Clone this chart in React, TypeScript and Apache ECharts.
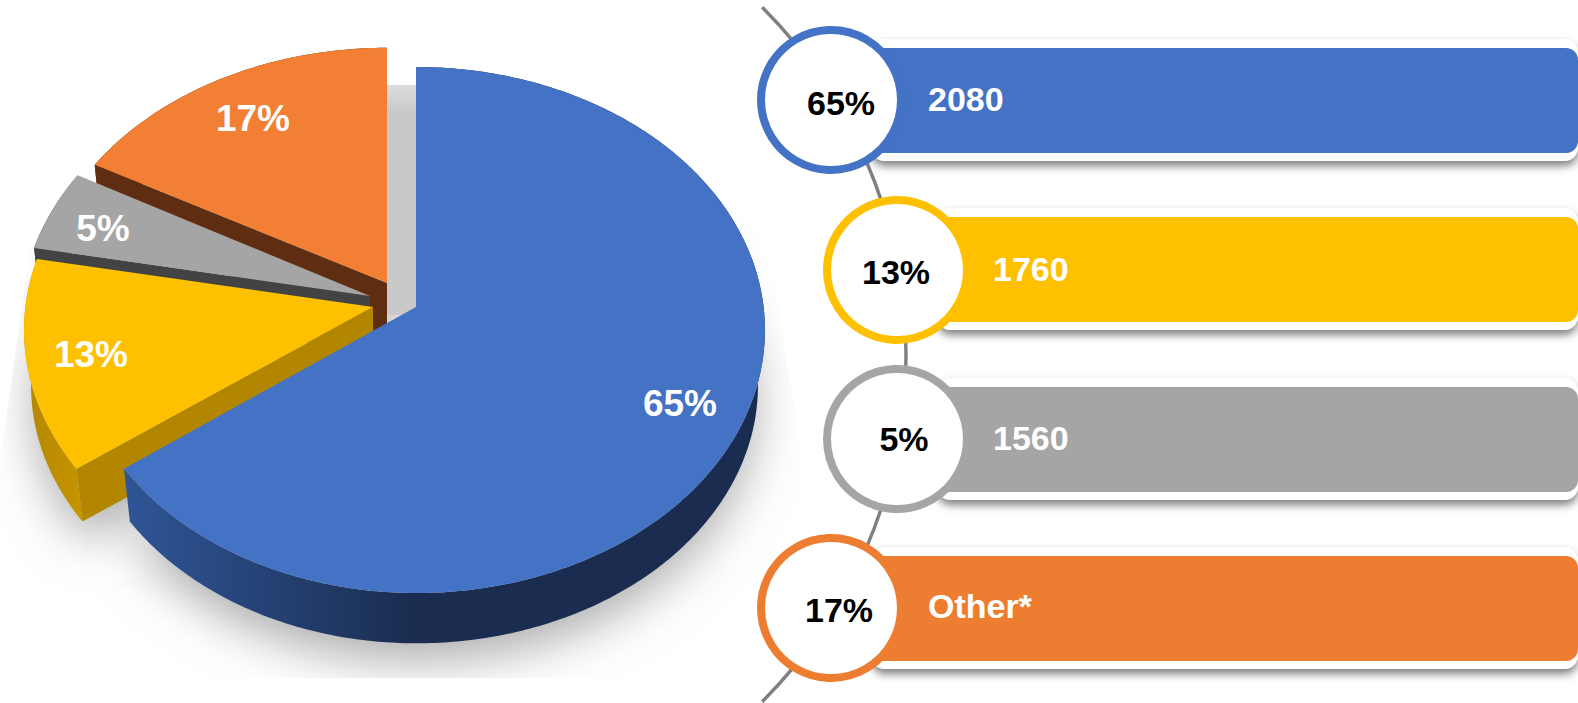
import React, { useEffect, useRef } from "react";
import * as echarts from "echarts";

// ---------- data ----------
const categories = ["2080", "1760", "1560", "Other*"];
const shares = [65, 13, 5, 17];
const faceColors = ["#4472C4", "#FFC000", "#A5A5A5", "#F27F33"];
const barColors = ["#4472C4", "#FFC000", "#A5A5A5", "#ED7D31"];
const radialWallColors = ["#1A2D50", "#B38600", "#434343", "#5F2E12"];

// ---------- layout ----------
const W = 1578;
const H = 703;
const FONT = '"Liberation Sans", Arial, sans-serif';
const PIE = { cx: 416, cy: 307, rx: 347.6, k: 261, p: 0.0875, depth: 56, bottomScale: 0.98 };
const explodeX = [0, -43, -46, -29];
const explodeY = [0, 0, -11, -24];
const sliceYScale = [1, 1, 1, 0.98];
const sliceLeftScale = [0.985, 1, 1, 1];
const pieLabelX = [680, 91, 103, 253];
const pieLabelY = [403, 354, 228, 118];
const circleX = [831, 897, 897, 831];
const circleY = [100, 270, 439, 608];
const barTop = [48, 217, 387, 556];
const pctX = [841, 896, 904, 839];
const pctY = [103, 272, 439, 610];
const valueX = [928, 993, 993, 928];
const valueY = [99, 269, 438, 606];

const starts: number[] = [];
shares.reduce((acc, s, i) => {
  starts[i] = acc;
  return acc + s;
}, 0);

type Pt = [number, number];

function project(i: number, theta: number, lower: boolean, extraY = 0, s0?: number): Pt {
  const s = s0 !== undefined ? s0 : lower ? PIE.bottomScale : 1;
  const d = lower ? PIE.depth : 0;
  const u = Math.sin(theta);
  const v = Math.cos(theta);
  const den = 1 + PIE.p * v;
  const xs = u < 0 ? sliceLeftScale[i] : 1;
  return [
    PIE.cx + explodeX[i] + (s * xs * PIE.rx * u) / den,
    PIE.cy + explodeY[i] + d + extraY - (s * sliceYScale[i] * PIE.k * v) / den,
  ];
}

function arcPoints(i: number, a0: number, a1: number, lower: boolean, extraY = 0, s0?: number): Pt[] {
  const n = Math.max(4, Math.ceil(Math.abs(a1 - a0) / 0.012));
  const out: Pt[] = [];
  for (let j = 0; j <= n; j++) out.push(project(i, a0 + ((a1 - a0) * j) / n, lower, extraY, s0));
  return out;
}

const toAngle = (pct: number) => (pct / 100) * Math.PI * 2;

function hgrad(x1: number, x2: number, c1: string, c2: string) {
  return {
    type: "linear",
    x: x1,
    y: 0,
    x2,
    y2: 0,
    global: true,
    colorStops: [
      { offset: 0, color: c1 },
      { offset: 1, color: c2 },
    ],
  };
}

function renderShadow() {
  const children: any[] = [];
  shares.forEach((s, i) => {
    const a0 = toAngle(starts[i]);
    const a1 = toAngle(starts[i] + s);
    const apex: Pt = [PIE.cx + explodeX[i], PIE.cy + explodeY[i] + PIE.depth];
    const pts = arcPoints(i, a0, a1, true, -2, 0.97);
    children.push({
      type: "polygon",
      shape: { points: [apex, ...pts] },
      style: { fill: "#c9c9c9", shadowBlur: 50, shadowColor: "rgba(172,172,172,1)", shadowOffsetY: 22 },
    });
  });
  children.push({
    type: "rect",
    shape: { x: 380, y: 85, width: 40, height: 230 },
    style: {
      fill: {
        type: "linear",
        x: 0,
        y: 85,
        x2: 0,
        y2: 112,
        global: true,
        colorStops: [
          { offset: 0, color: "#dddddd" },
          { offset: 1, color: "#c9c9c9" },
        ],
      },
    },
  });
  const mask = (points: Pt[]) => ({ type: "polygon", shape: { points }, style: { fill: "#ffffff" } });
  children.push(mask([[725, 0], [760, 240], [777, 300], [800, 443], [835, 703], [1000, 703], [1000, 0]]));
  children.push(mask([[0, 678], [1000, 678], [1000, 703], [0, 703]]));
  children.push(mask([[0, 0], [300, 0], [30, 247], [0, 463]]));
  return { type: "group", children };
}

function renderSlice(params: any, api: any) {
  const i = api.value(0);
  const a0 = toAngle(api.value(1));
  const a1 = toAngle(api.value(1) + api.value(2));
  const apexTop: Pt = [PIE.cx + explodeX[i], PIE.cy + explodeY[i]];
  const apexBottom: Pt = [apexTop[0], apexTop[1] + PIE.depth];
  const top = arcPoints(i, a0, a1, false);
  const bottom = arcPoints(i, a0, a1, true);
  const outerFill =
    i === 0
      ? hgrad(125, 416, "#2F5597", "#1A2D50")
      : i === 1
        ? hgrad(25, 90, "#B38600", "#C99700")
        : radialWallColors[i];
  const children: any[] = [
    {
      type: "polygon",
      shape: { points: [...top, ...bottom.slice().reverse()] },
      style: { fill: outerFill },
    },
    {
      type: "polygon",
      shape: { points: [apexTop, top[0], bottom[0], apexBottom] },
      style: { fill: radialWallColors[i] },
    },
    {
      type: "polygon",
      shape: { points: [apexTop, ...top] },
      style: { fill: faceColors[i] },
    },
    {
      type: "text",
      style: {
        text: api.value(2) + "%",
        x: pieLabelX[i],
        y: pieLabelY[i],
        fill: "#ffffff",
        font: `bold 37px ${FONT}`,
        align: "center",
        verticalAlign: "middle",
      },
    },
  ];
  return { type: "group", children };
}

function renderConnector() {
  return {
    type: "arc",
    shape: { cx: 415, cy: 354.5, r: 491, startAngle: -Math.PI / 4, endAngle: Math.PI / 4, clockwise: true },
    style: { stroke: "#7F7F7F", lineWidth: 3.4, fill: "none" },
  };
}

function renderRow(params: any, api: any) {
  const i = api.value(0);
  const barH = 105;
  const top = barTop[i];
  const left = circleX[i] + 40;
  const children: any[] = [
    {
      type: "rect",
      shape: { x: left, y: top - 9, width: W - left, height: barH + 17, r: 14 },
      style: {
        fill: "#ffffff",
        shadowBlur: 9,
        shadowOffsetY: 5,
        shadowColor: "rgba(0,0,0,0.5)",
      },
    },
    {
      type: "rect",
      shape: { x: left, y: top, width: W - left, height: barH, r: [0, 12, 12, 0] },
      style: { fill: barColors[i] },
    },
    {
      type: "circle",
      shape: { cx: circleX[i], cy: circleY[i], r: 70 },
      style: { fill: "#ffffff", stroke: barColors[i], lineWidth: 8 },
    },
    {
      type: "text",
      style: {
        text: api.value(1) + "%",
        x: pctX[i],
        y: pctY[i],
        fill: "#000000",
        font: `bold 34px ${FONT}`,
        align: "center",
        verticalAlign: "middle",
      },
    },
    {
      type: "text",
      style: {
        text: categories[i],
        x: valueX[i],
        y: valueY[i],
        fill: "#ffffff",
        font: `bold 34px ${FONT}`,
        align: "left",
        verticalAlign: "middle",
      },
    },
  ];
  return { type: "group", children };
}

export default function App() {
  const ref = useRef<HTMLDivElement>(null);
  useEffect(() => {
    const chart = echarts.init(ref.current as HTMLDivElement, undefined, { renderer: "svg" });
    const drawOrder = shares.map((_, i) => shares.length - 1 - i);
    chart.setOption({
      animation: false,
      backgroundColor: "#ffffff",
      series: [
        {
          type: "custom",
          coordinateSystem: "none",
          z: 1,
          silent: true,
          data: [[0]],
          renderItem: renderShadow,
        },
        {
          type: "custom",
          coordinateSystem: "none",
          z: 2,
          silent: true,
          data: drawOrder.map((i) => [i, starts[i], shares[i]]),
          renderItem: renderSlice,
        },
        {
          type: "custom",
          coordinateSystem: "none",
          z: 3,
          silent: true,
          data: [[0]],
          renderItem: renderConnector,
        },
        {
          type: "custom",
          coordinateSystem: "none",
          z: 4,
          silent: true,
          data: shares.map((s, i) => [i, s]),
          renderItem: renderRow,
        },
      ],
    });
    return () => chart.dispose();
  }, []);
  return <div ref={ref} style={{ position: "fixed", left: 0, top: 0, width: W, height: H }} />;
}
